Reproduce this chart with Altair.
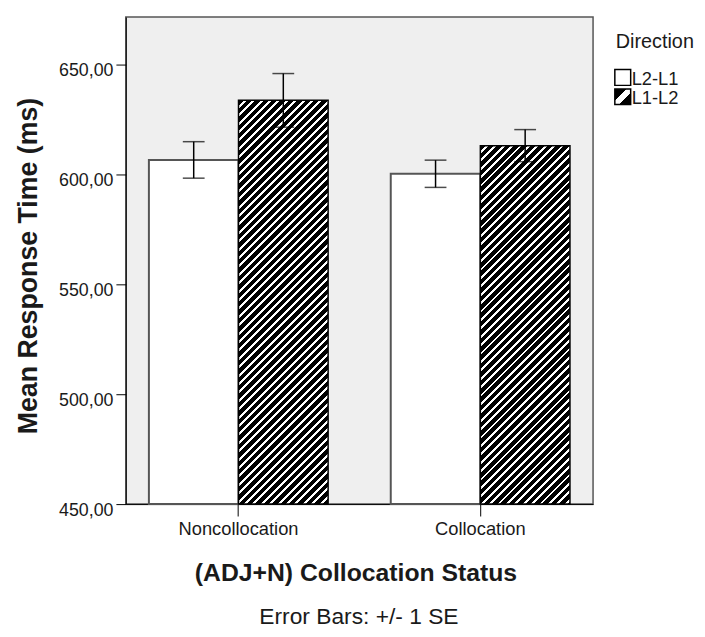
import math
import altair as alt
import pandas as pd

# ---------------- data ----------------
categories = ["Noncollocation", "Collocation"]
directions = ["L2-L1", "L1-L2"]
status_col = ["Noncollocation", "Noncollocation", "Collocation", "Collocation"]
direction_col = ["L2-L1", "L1-L2", "L2-L1", "L1-L2"]
mean_rt = [606.6, 633.7, 600.3, 613.1]
se_rt = [8.3, 12.2, 6.2, 7.3]
y_ticks = [450, 500, 550, 600, 650]
y_domain = [450, 671.6]
legend_title = "Direction"
footnote = "Error Bars: +/- 1 SE"
x_title = "(ADJ+N) Collocation Status"
y_title = "Mean Response Time (ms)"

# ---------------- layout / style ----------------
W, H = 472, 492
PAD_IN, PAD_OUT = 0.259, 0.0955
FONT = "Liberation Sans"
TXT = "#1a1a1a"

df = pd.DataFrame({"status": status_col, "direction": direction_col,
                   "mean": mean_rt, "se": se_rt})
df["lo"] = df["mean"] - df["se"]
df["hi"] = df["mean"] + df["se"]

step = W / (len(categories) - PAD_IN + 2 * PAD_OUT)
sub_w = step * (1 - PAD_IN) / len(directions)


def hatch(w, h, period=6.0, white=0.35):
    """45-degree '/' stripes as a bounding-box linear gradient."""
    D = (w + h) / math.sqrt(2)
    c = (w + h) / (w * w + h * h)
    p = period / D
    stops = []
    k = 0
    while k * p < 1:
        a = k * p
        b = a + (1 - white) * p
        e = (k + 1) * p
        for off, col in [(a, "black"), (b, "black"), (b, "white"), (e, "white")]:
            stops.append(alt.GradientStop(offset=min(off, 1.0), color=col))
        k += 1
    return alt.LinearGradient(gradient="linear", x1=0, y1=0, x2=c * w, y2=c * h, stops=stops)


x_enc = alt.X("status:N", sort=categories,
              scale=alt.Scale(domain=categories, paddingInner=PAD_IN, paddingOuter=PAD_OUT),
              axis=alt.Axis(title=x_title, labelAngle=0, labelFontSize=18.5, labelFont=FONT,
                            labelColor=TXT, labelBaseline="alphabetic", labelPadding=19,
                            tickSize=12, tickColor="black", domainColor="black",
                            titleFont=FONT, titleFontSize=25, titleFontWeight="bold",
                            titleColor=TXT, titleX=232, titleY=77, titleBaseline="alphabetic"))
xo_enc = alt.XOffset("direction:N", sort=directions,
                     scale=alt.Scale(domain=directions, paddingInner=0, paddingOuter=0))
y_scale = alt.Scale(domain=y_domain, nice=False, zero=False)
y_enc = alt.Y("mean:Q", scale=y_scale,
              axis=alt.Axis(title=y_title, values=y_ticks, grid=False,
                            labelExpr="replace(format(datum.value, '.2f'), '.', ',')",
                            labelFontSize=18, labelFont=FONT, labelColor=TXT,
                            labelBaseline="alphabetic", labelOffset=11.5, labelPadding=3,
                            tickSize=10, tickColor="black", domainColor="black",
                            titleFont=FONT, titleFontSize=27, titleFontWeight="bold",
                            titleColor=TXT, titleAngle=270, titleX=-90, titleY=251,
                            titleBaseline="alphabetic"))

base = alt.Chart(df)

white_bars = base.mark_bar(fill="white", stroke="#555555", strokeWidth=2).encode(
    x=x_enc, xOffset=xo_enc, y=y_enc, y2=alt.datum(y_domain[0])
).transform_filter(alt.datum.direction == directions[0])

layers = [white_bars]
for s, d, m in zip(status_col, direction_col, mean_rt):
    if d != directions[1]:
        continue
    h = (m - y_domain[0]) / (y_domain[1] - y_domain[0]) * H
    layers.append(
        base.mark_bar(fill=hatch(sub_w, h), stroke="black", strokeWidth=1.5).encode(
            x=x_enc, xOffset=xo_enc, y=y_enc, y2=alt.datum(y_domain[0])
        ).transform_filter((alt.datum.status == s) & (alt.datum.direction == d))
    )

stems = base.mark_rule(color="black", strokeWidth=1.5).encode(
    x=x_enc, xOffset=xo_enc, y=alt.Y("lo:Q", scale=y_scale), y2="hi:Q")
cap_lo = base.mark_tick(color="black", thickness=1.5, size=22).encode(
    x=x_enc, xOffset=xo_enc, y=alt.Y("lo:Q", scale=y_scale))
cap_hi = base.mark_tick(color="black", thickness=1.5, size=22).encode(
    x=x_enc, xOffset=xo_enc, y=alt.Y("hi:Q", scale=y_scale))
layers += [stems, cap_lo, cap_hi]

# footnote
foot = alt.Chart(alt.Data(values=[{"t": footnote}])).mark_text(
    font=FONT, fontSize=23, color=TXT, align="center", baseline="alphabetic"
).encode(x=alt.value(235.5), y=alt.value(613), text="t:N")

# manual legend
leg_title = alt.Chart(alt.Data(values=[{"t": legend_title}])).mark_text(
    font=FONT, fontSize=20, color=TXT, align="left", baseline="alphabetic"
).encode(x=alt.value(495), y=alt.value(31), text="t:N")

sw1 = alt.Chart(alt.Data(values=[{"d": directions[0]}])).mark_rect(
    fill="white", stroke="black", strokeWidth=1.5
).encode(x=alt.value(494), x2=alt.value(510), y=alt.value(53), y2=alt.value(69))

sw_grad = alt.LinearGradient(
    gradient="linear", x1=0, y1=0, x2=1, y2=1,
    stops=[alt.GradientStop(offset=0, color="black"), alt.GradientStop(offset=0.38, color="black"),
           alt.GradientStop(offset=0.38, color="white"), alt.GradientStop(offset=0.62, color="white"),
           alt.GradientStop(offset=0.62, color="black"), alt.GradientStop(offset=1, color="black")])
sw2 = alt.Chart(alt.Data(values=[{"d": directions[1]}])).mark_rect(
    fill=sw_grad, stroke="black", strokeWidth=1.5
).encode(x=alt.value(494), x2=alt.value(510), y=alt.value(72.7), y2=alt.value(88.3))

lab1 = alt.Chart(alt.Data(values=[{"t": directions[0]}])).mark_text(
    font=FONT, fontSize=18.5, color=TXT, align="left", baseline="alphabetic"
).encode(x=alt.value(511), y=alt.value(68.5), text="t:N")
lab2 = alt.Chart(alt.Data(values=[{"t": directions[1]}])).mark_text(
    font=FONT, fontSize=18.5, color=TXT, align="left", baseline="alphabetic"
).encode(x=alt.value(511), y=alt.value(88.2), text="t:N")

layers += [foot, leg_title, sw1, sw2, lab1, lab2]

chart = alt.layer(*layers).properties(
    width=W, height=H, autosize="none",
    padding={"left": 119, "top": 6, "right": 105, "bottom": 123},
).configure(font=FONT).configure_view(
    fill="#efefef", stroke="#555555", strokeWidth=1.5
)

chart.save("out.html", embed_options={"renderer": "svg", "actions": False})
